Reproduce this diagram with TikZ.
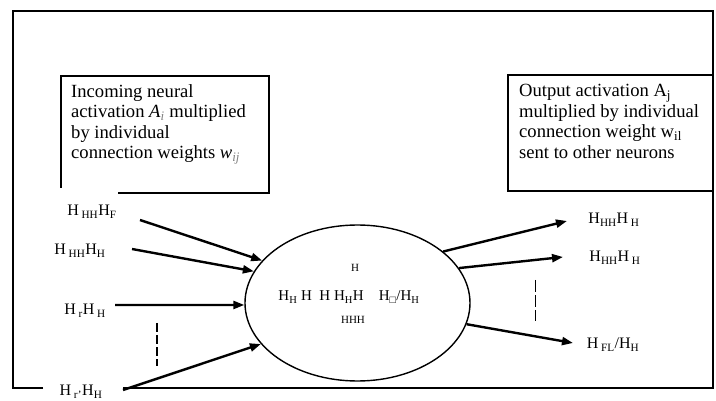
\documentclass[tikz,border=0pt]{standalone}
\usepackage{fontspec}
\setmainfont{Liberation Serif}
\usetikzlibrary{arrows.meta,shapes.geometric}
\begin{document}
\begin{tikzpicture}[x=1pt,y=-1pt,
  frame/.style={line width=1.2pt},
  boxline/.style={line width=1.6pt},
  conn/.style={line width=2.4pt,-{Triangle[length=11pt,width=8pt]}},
  lbl/.style={font=\fontsize{16}{18}\selectfont, inner sep=1pt},
  mid/.style={font=\fontsize{15}{17}\selectfont, inner sep=1pt},
  sml/.style={font=\fontsize{11}{13}\selectfont, inner sep=1pt},
  txt/.style={font=\fontsize{18.6}{20.6}\selectfont, align=left, inner sep=0pt, anchor=north west},
  dots/.style={line width=2.2pt, dash pattern=on 9pt off 3pt},
  thindots/.style={line width=1pt, dash pattern=on 12pt off 3pt},
]
\useasboundingbox (0,0) rectangle (716,401);
% outer frame (broken where the bottom label sits)
\draw[frame] (43,388) -- (13,388) -- (13,11) -- (713,11) -- (713,388) -- (123,388);
% left text box
\draw[boxline] (61,188) -- (61,76) -- (269,76) -- (269,193) -- (118,193);
\node[txt] (intext) at (71,84) {Incoming neural\\activation \textit{A}\textsubscript{\color{gray}\textit{i}} multiplied\\by individual\\connection weights \textit{w}\textsubscript{\color{gray}\textit{ij}}};
% right text box
\draw[boxline, fill=white] (508,75) rectangle (713,191);
\node[txt] (outtext) at (519,84) {Output activation A\textsubscript{j}\\multiplied by individual\\connection weight w\textsubscript{il}\\sent to other neurons};
% neuron
\node[draw, ellipse, line width=1.4pt, minimum width=225pt, minimum height=156pt, inner sep=0pt] (cell) at (357.5,303) {};
\node[sml] (c1) at (355,268) {H};
\node[mid] (c2) at (349,297) {H\textsubscript{H} H\enspace H H\textsubscript{H}H\enspace\enspace H\textsubscript{□}/H\textsubscript{H}};
\node[sml] (c3) at (353,320) {HHH};
% input labels
\node[lbl] (in1) at (92,212) {H\,\textsubscript{HH}H\textsubscript{F}};
\node[lbl] (in2) at (80,251) {H\,\textsubscript{HH}H\textsubscript{H}};
\node[lbl] (in3) at (85,311) {H\,\textsubscript{r}H\,\textsubscript{H}};
\node[lbl] (in4) at (81,392) {H\,\textsubscript{r'}H\textsubscript{H}};
\coordinate (s1) at (140,220);
\coordinate (s2) at (132,249);
\coordinate (s3) at (115,305);
\coordinate (s4) at (123,390);
\draw[conn] (s1) -- (cell.156);
\draw[conn] (s2) -- (cell.163);
\draw[conn] (s3) -- (cell.181);
\draw[conn] (s4) -- (cell.203);
\coordinate (da) at (157,323);
\coordinate (db) at (157,366);
\draw[dots] (da) -- (db);
% output labels
\node[lbl] (out1) at (614,220) {H\textsubscript{HH}H\,\textsubscript{H}};
\node[lbl] (out2) at (615,258) {H\textsubscript{HH}H\,\textsubscript{H}};
\node[lbl] (out3) at (613,345) {H\,\textsubscript{FL}/H\textsubscript{H}};
\coordinate (t1) at (567,221);
\coordinate (t2) at (563,257);
\coordinate (t3) at (573,343);
\draw[conn] (cell.31) -- (t1);
\draw[conn] (cell.19) -- (t2);
\draw[conn] (cell.349) -- (t3);
\coordinate (ea) at (535,280);
\coordinate (eb) at (535,321);
\draw[thindots] (ea) -- (eb);
\end{tikzpicture}
\end{document}
